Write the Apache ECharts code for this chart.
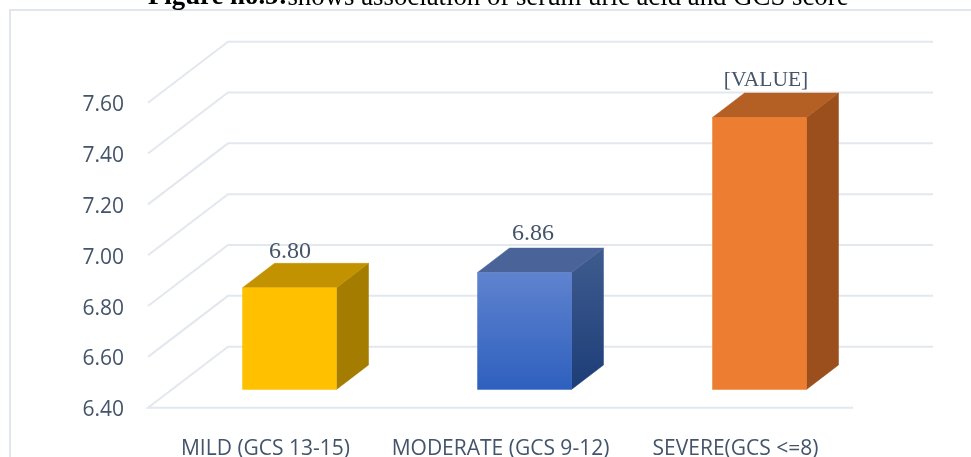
<!DOCTYPE html>
<html>
<head>
<meta charset="utf-8">
<style>html,body{margin:0;padding:0;background:#fff;overflow:hidden}#chart{width:971px;height:457px}</style>
<script src="https://cdn.jsdelivr.net/npm/echarts@6/dist/echarts.min.js"></script>
</head>
<body>
<div id="chart"></div>
<script>
// Serum uric acid by GCS severity group
const categories = ['MILD (GCS 13-15)', 'MODERATE (GCS 9-12)', 'SEVERE(GCS <=8)'];
const uricAcid = [6.80, 6.86, 7.47];
const valueLabels = ['6.80', '6.86', '[VALUE]'];
const axisTicks = [6.4, 6.6, 6.8, 7.0, 7.2, 7.4, 7.6];

// Oblique projection of the chart's depth, in pixels
const DEPTH_X = 80, DEPTH_Y = 61;
const BAR_NEAR = 0.3, BAR_FAR = 0.7, BAR_WIDTH = 0.4;

// Per-bar label placement relative to the front face
const LABEL_STYLE = [
  { dx: 0.5, dy: 0, size: 24 },
  { dx: 8.5, dy: -2, size: 24 },
  { dx: 6.5, dy: -2, size: 21.5 }
];

const linear = (top, bottom) => ({
  type: 'linear', x: 0, y: 0, x2: 0, y2: 1,
  colorStops: [{ offset: 0, color: top }, { offset: 1, color: bottom }]
});
const barPaint = [
  { front: '#FFC000', top: '#C29200', side: '#A47C00' },
  { front: linear('#5F83CF', '#2E60BE'), top: '#4A6499', side: linear('#3F5C8F', '#1D3D78') },
  { front: '#ED7D31', top: '#B45F23', side: '#9A4F1C' }
];

const chart = echarts.init(document.getElementById('chart'));

// Back wall, side wall and floor grid for one axis tick
function renderWall(params, api) {
  const value = api.value(0);
  const rect = params.coordSys;
  const y = api.coord([0, value])[1];
  const left = rect.x, right = rect.x + rect.width;
  const points = value === axisTicks[0]
    ? [[right, y], [left, y], [left + DEPTH_X, y - DEPTH_Y], [right + DEPTH_X, y - DEPTH_Y]]
    : [[left, y], [left + DEPTH_X, y - DEPTH_Y], [right + DEPTH_X, y - DEPTH_Y]];
  return {
    type: 'polyline',
    shape: { points },
    style: { stroke: '#E3E7EE', lineWidth: 2, fill: null },
    silent: true
  };
}

// Oblique box standing on the floor, part way into the depth
function renderBar(params, api) {
  const i = api.value(0);
  const paint = barPaint[i];
  const label = LABEL_STYLE[i];
  const base = api.coord([i, axisTicks[0]]);
  const head = api.coord([i, api.value(1)]);
  const band = api.size([1, 0])[0];
  const w = band * BAR_WIDTH;
  const x0 = base[0] + DEPTH_X * BAR_NEAR - w / 2;
  const x1 = x0 + w;
  const yBase = base[1] - DEPTH_Y * BAR_NEAR;
  const yHead = head[1] - DEPTH_Y * BAR_NEAR;
  const dx = DEPTH_X * (BAR_FAR - BAR_NEAR);
  const dy = DEPTH_Y * (BAR_FAR - BAR_NEAR);
  const face = (points, fill) => ({
    type: 'polygon', shape: { points }, style: { fill, stroke: fill, lineWidth: 0.5 }
  });
  return {
    type: 'group',
    children: [
      face([[x1, yHead], [x1 + dx, yHead - dy], [x1 + dx, yBase - dy], [x1, yBase]], paint.side),
      face([[x0, yHead], [x0 + dx, yHead - dy], [x1 + dx, yHead - dy], [x1, yHead]], paint.top),
      face([[x0, yHead], [x1, yHead], [x1, yBase], [x0, yBase]], paint.front),
      {
        type: 'text',
        style: {
          x: (x0 + x1) / 2 + label.dx,
          y: yHead - dy + label.dy,
          text: valueLabels[i],
          fill: '#44546A',
          font: label.size + 'px "Liberation Serif", serif',
          align: 'center',
          verticalAlign: 'bottom'
        }
      }
    ]
  };
}

chart.setOption({
  animation: false,
  title: {
    text: '{b|Figure no.5:}{r|shows association of serum uric acid and GCS score}',
    left: 148,
    top: -16,
    padding: 0,
    textStyle: {
      rich: {
        b: { fontFamily: '"Liberation Serif", serif', fontWeight: 'bold', fontSize: 26.8, color: '#000' },
        r: { fontFamily: '"Liberation Serif", serif', fontWeight: 'normal', fontSize: 26.8, color: '#000' }
      }
    }
  },
  graphic: [{
    type: 'rect',
    silent: true,
    z: -1,
    shape: { x: 10, y: 10, width: 1100, height: 600 },
    style: { fill: null, stroke: '#E1E5EC', lineWidth: 2 }
  }],
  grid: { left: 148, right: 118, top: 102.7, height: 305, outerBoundsMode: 'none' },
  xAxis: {
    type: 'category',
    data: categories,
    axisLine: { show: false },
    axisTick: { show: false },
    axisLabel: {
      color: '#44546A',
      fontFamily: '"Open Sans", sans-serif',
      fontSize: 21,
      margin: 31,
      interval: 0
    }
  },
  yAxis: {
    type: 'value',
    min: 6.4,
    max: 7.6,
    interval: 0.2,
    axisLine: { show: false },
    axisTick: { show: false },
    splitLine: { show: false },
    axisLabel: {
      color: '#44546A',
      margin: 24,
      formatter: v => '{tick|' + v.toFixed(2) + '}',
      rich: {
        tick: {
          color: '#44546A',
          fontFamily: '"Open Sans", sans-serif',
          fontSize: 21,
          padding: [5, 0, 0, 0]
        }
      }
    }
  },
  series: [
    {
      type: 'custom',
      name: 'Grid',
      coordinateSystem: 'cartesian2d',
      renderItem: renderWall,
      data: axisTicks.map(v => [v]),
      encode: { y: 0 },
      clip: false,
      z: 1
    },
    {
      type: 'custom',
      name: 'Uric acid',
      coordinateSystem: 'cartesian2d',
      renderItem: renderBar,
      data: uricAcid.map((v, i) => [i, v]),
      encode: { x: 0, y: 1 },
      clip: false,
      z: 2
    }
  ]
});
</script>
</body>
</html>
